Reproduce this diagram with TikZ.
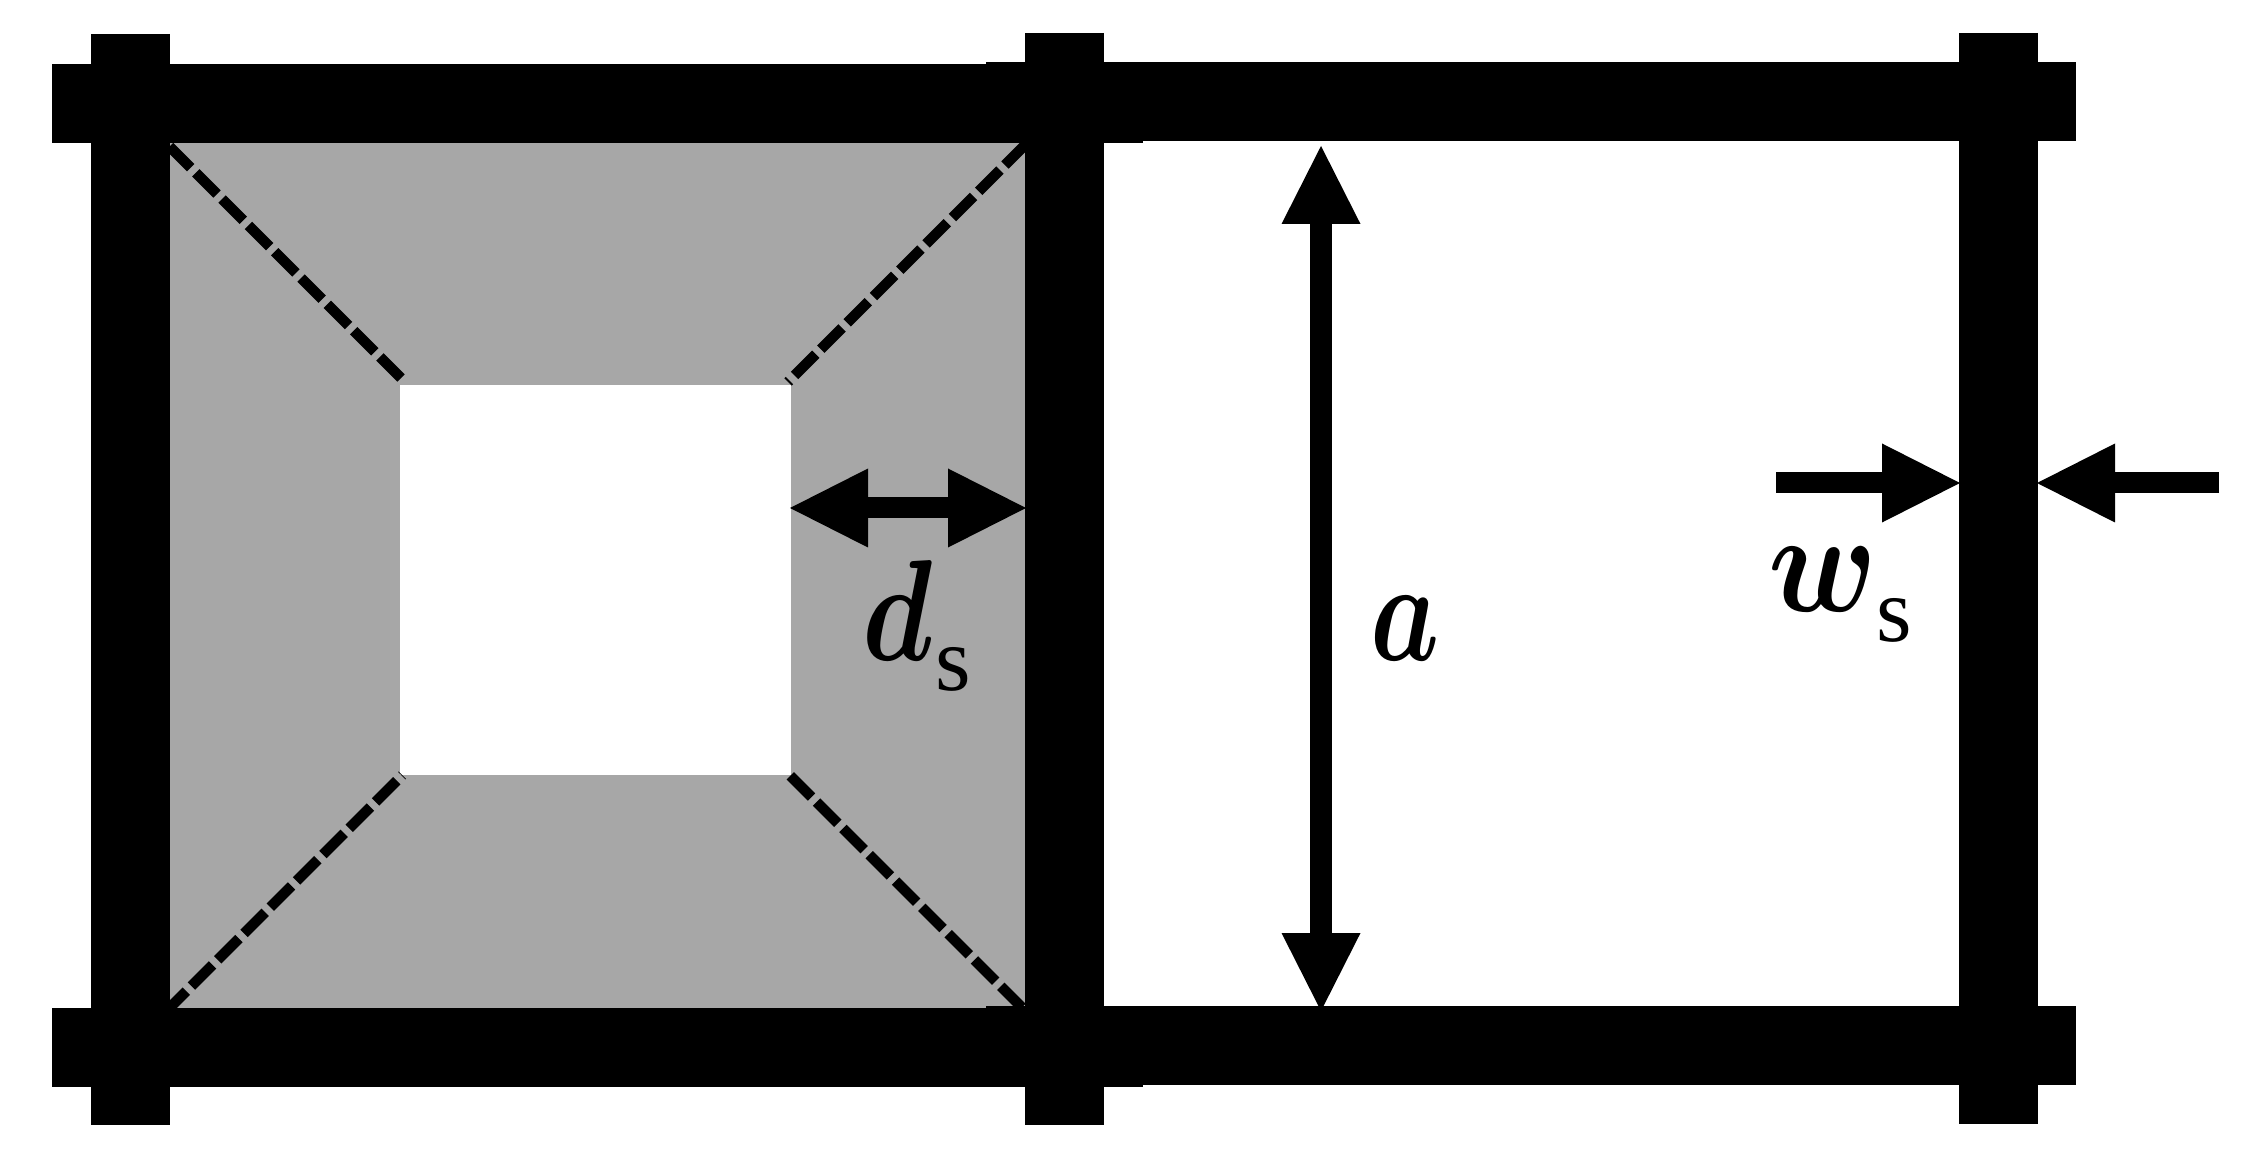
\documentclass[tikz,border=0pt]{standalone}
\usepackage{fontspec}
\setmainfont{Liberation Serif}
\usepackage{graphicx}
\usepackage{xcolor}
\usetikzlibrary{arrows.meta}

\definecolor{patchgray}{HTML}{A7A7A7}
\font\lblmath=cmmib10 at 41pt
\newcommand{\lblvar}[2][0.80]{\scalebox{#1}[1]{\lblmath #2}}
\newcommand{\lblsub}[1]{\lower 0.30cm\hbox{\fontsize{26}{26}\selectfont #1}}

\tikzset{
    gridbar/.style={line width=0.79cm},
    slit/.style={line width=0.105cm, dash pattern=on 0.30cm off 0.072cm},
    dimline/.style={line width=0.21cm},
    dimtip/.style={arrows={-{Triangle[length=0.78cm,width=0.79cm,line width=0pt]}}},
    dimboth/.style={arrows={{Triangle[length=0.78cm,width=0.79cm,line width=0pt]}-{Triangle[length=0.78cm,width=0.79cm,line width=0pt]}}},
    lbl/.style={inner sep=0pt, anchor=base west}
}

\begin{document}
\begin{tikzpicture}
    \useasboundingbox (0,0) rectangle (22.43,11.54);

    % Gray patch with square hole
    \fill[patchgray] (1.70,1.46) rectangle (10.25,10.11);
    \fill[white] (4.00,3.79) rectangle (7.91,7.69);

    % Dashed diagonals
    \draw[slit] (1.432,10.338) -- (4.01,7.76);
    \draw[slit] (10.525,10.365) -- (7.88,7.72);
    \draw[slit] (1.651,1.416) -- (4.023,3.788);
    \draw[slit] (7.903,3.782) -- (10.40,1.285);

    % Vertical strips
    \draw[gridbar] (1.305,11.20) -- (1.305,0.29);
    \draw[gridbar] (10.645,11.21) -- (10.645,0.29);
    \draw[gridbar] (19.985,11.21) -- (19.985,0.30);

    % Horizontal strips, left cell
    \draw[gridbar] (0.52,10.505) -- (11.43,10.505);
    \draw[gridbar] (0.52,1.065) -- (11.43,1.065);

    % Horizontal strips, right cell
    \draw[gridbar] (9.86,10.52) -- (20.76,10.52);
    \draw[gridbar] (9.86,1.085) -- (20.76,1.085);

    % Arrow ends
    \coordinate (dsL) at (7.90,6.46);
    \coordinate (dsR) at (10.26,6.46);
    \coordinate (aT) at (13.21,10.08);
    \coordinate (aB) at (13.21,1.43);
    \coordinate (wsL) at (17.76,6.71);
    \coordinate (wsLtip) at (19.60,6.71);
    \coordinate (wsR) at (22.19,6.71);
    \coordinate (wsRtip) at (20.37,6.71);

    % Dimension arrows
    \draw[dimline, dimboth] (dsL) -- (dsR);
    \draw[dimline, dimboth, line width=0.22cm] (aT) -- (aB);
    \draw[dimline, dimtip] (wsL) -- (wsLtip);
    \draw[dimline, dimtip] (wsR) -- (wsRtip);

    % Labels
    \node[lbl] (dsLbl) at (8.62,4.94) {\lblvar{d}\kern0.02cm\lblsub{s}};
    \node[lbl] (aLbl) at (13.70,4.94) {\lblvar[0.76]{a}};
    \node[lbl] (wsLbl) at (17.68,5.43) {\lblvar[0.88]{w}\kern0.02cm\lblsub{s}};
\end{tikzpicture}
\end{document}
